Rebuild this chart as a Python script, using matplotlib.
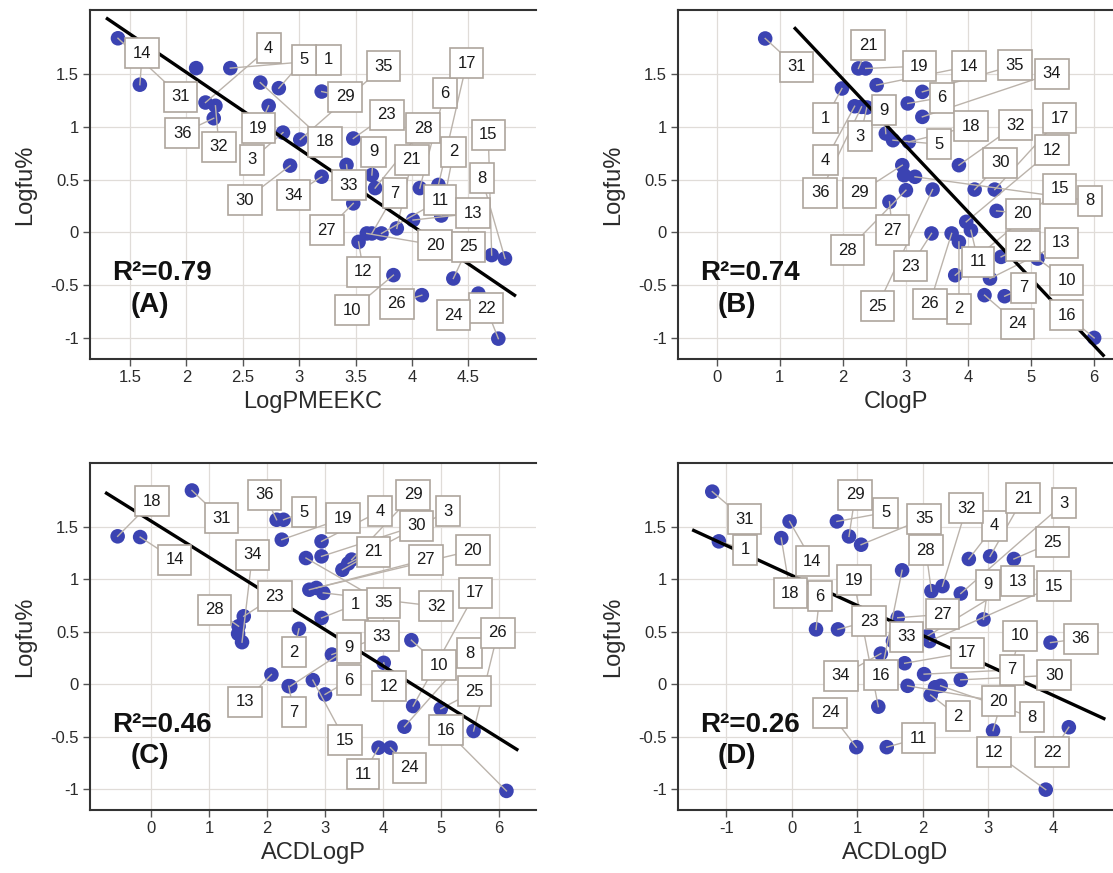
import matplotlib
matplotlib.use("Agg")
import matplotlib.pyplot as plt

plt.rcParams["font.family"] = ["Liberation Sans", "DejaVu Sans"]

compound_ids = list(range(1, 37))

# panel A: LogPMEEKC (point x, point y, label box x, label box y), compounds 1..36
a_x = [2.39, 4.26, 2.857, 2.17, 2.82, 4.07, 3.645, 4.825, 3.645, 3.836, 3.73, 3.527,
       4.01, 1.588, 4.707, 2.087, 4.235, 2.656, 2.73, 3.60, 3.866, 4.766, 3.48, 4.589,
       4.367, 4.088, 3.48, 3.674, 3.20, 2.92, 1.394, 2.258, 3.42, 3.20, 3.01, 2.243]
a_y = [1.557, 0.16, 0.946, 1.231, 1.367, 0.42, -0.01, -0.247, 0.544, -0.405, -0.01, -0.09,
       0.117, 1.40, -0.215, 1.557, 0.45, 1.42, 1.20, -0.01, 0.038, -1.007, 0.89, -0.58,
       -0.437, -0.595, 0.275, 0.42, 1.335, 0.633, 1.84, 1.20, 0.64, 0.528, 0.88, 1.082]
a_lx = [3.26, 4.37, 2.58, 2.73, 3.04, 4.29, 3.85, 4.62, 3.66, 3.467, 4.25, 3.571,
        4.54, 1.609, 4.677, None, 4.485, 3.23, 2.64, 4.205, 4.0, 4.66, 3.777, 4.367,
        4.50, 3.866, 3.246, 4.10, 3.41, 2.52, 1.948, 2.29, 3.44, 2.95, 3.748, 1.963]
a_ly = [1.636, 0.766, 0.687, 1.747, 1.636, 1.32, 0.37, 0.513, 0.766, -0.737, 0.307, -0.373,
        0.18, 1.70, 0.924, None, 1.604, 0.861, 0.987, -0.12, 0.687, -0.72, 1.114, -0.785,
        -0.136, -0.674, 0.022, 0.987, 1.288, 0.307, 1.288, 0.813, 0.449, 0.354, 1.573, 0.94]

# panel B: ClogP
b_x = [1.988, 3.849, 2.384, 2.19, 2.80, 3.035, 4.576, 3.15, 2.686, 5.10, 4.04, 3.965,
       4.343, 2.54, 3.79, 6.0, 4.419, 3.052, 2.366, 4.448, 2.25, 4.52, 3.413, 4.256,
       3.43, 3.733, 2.744, 3.006, 2.948, 4.099, 0.767, 3.849, 2.977, 3.267, 3.267, 2.30]
b_y = [1.364, -0.09, 1.184, 1.196, 0.874, 1.222, -0.605, 0.527, 0.937, -0.248, 0.02, 0.1,
       -0.437, 1.396, -0.406, -1.0, 0.406, 0.858, 1.554, 0.204, 1.554, -0.232, -0.01, -0.595,
       0.406, -0.01, 0.29, 0.40, 0.637, 0.406, 1.838, 0.637, 0.542, 1.095, 1.332, 1.19]
b_lx = [1.727, 3.85, 2.28, 1.727, 3.53, 3.576, 4.878, 5.94, 2.657, 5.564, 4.157, 5.33,
        5.477, 4.01, 5.45, 5.564, 5.45, 4.04, 3.22, 4.866, 2.407, 4.866, 3.08, 4.78,
        2.552, 3.384, 2.79, 2.076, 2.267, 4.506, 1.262, 4.75, None, 5.33, 4.74, 1.64]
b_ly = [1.08, -0.722, 0.912, 0.684, 0.836, 1.278, -0.526, 0.299, 1.158, -0.454, -0.279, 0.78,
        -0.1, 1.575, 0.416, -0.785, 1.08, 1.007, 1.575, 0.179, 1.775, -0.131, -0.32, -0.864,
        -0.70, -0.675, 0.021, -0.169, 0.375, 0.659, 1.569, 1.016, None, 1.506, 1.585, 0.375]

# panel C: ACDLogP
c_x = [2.94, 2.55, 3.40, 2.94, 2.284, 3.0, 2.373, 4.37, 2.40, 4.49, 3.924, 4.013,
       2.075, -0.19, 2.79, 6.13, 4.52, -0.578, 2.254, 2.85, 3.30, 1.50, 1.598, 4.13,
       4.997, 5.563, 2.73, 1.509, 3.46, 2.94, 0.704, 2.97, 3.119, 1.568, 2.671, 2.165]
c_y = [0.631, 0.527, 1.15, 1.361, 1.567, -0.098, -0.019, -0.406, -0.02, 0.419, -0.606, 0.203,
       0.092, 1.402, 0.038, -1.018, -0.209, 1.409, 1.377, 0.917, 1.09, 0.48, 0.647, -0.606,
       -0.235, -0.447, 0.90, 0.552, 1.187, 1.218, 1.846, 0.87, 0.282, 0.40, 1.202, 1.567]
c_lx = [3.524, 2.463, 5.12, 3.95, 2.64, 3.417, 2.463, 5.492, 3.417, 4.967, 3.655, 4.10,
        1.616, 0.405, 3.345, 5.086, 5.593, 0.018, 3.31, 5.55, 3.834, None, 2.135, 4.46,
        5.58, 5.98, 4.74, 1.09, 4.52, 4.58, 1.21, 4.92, 3.983, 1.747, 4.013, 1.956]
c_ly = [0.758, 0.305, 1.65, 1.65, 1.64, 0.038, -0.266, 0.292, 0.346, 0.178, -0.86, -0.019,
        -0.168, 1.187, -0.533, -0.438, 0.869, 1.742, 1.58, 1.275, 1.26, None, 0.838, -0.796,
        -0.067, 0.489, 1.187, 0.711, 1.805, 1.51, 1.58, 0.742, 0.457, 1.234, 0.774, 1.805]

# panel D: ACDLogD
d_x = [-1.115, 2.123, 2.583, 2.706, 0.689, 0.37, 2.022, 2.275, 2.93, 3.076, 1.451, 3.882,
       2.08, -0.034, 2.106, 1.686, 1.725, -0.162, 1.322, 1.77, 3.031, 4.235, 0.706, 0.986,
       3.395, 2.19, 1.619, 2.134, 0.874, 2.583, -1.216, 2.303, 1.546, 1.361, 1.059, 3.955]
d_y = [1.361, -0.104, 0.864, 1.193, 1.551, 0.522, 0.095, -0.016, 0.617, -0.443, -0.601, -1.006,
       0.46, 1.551, 0.41, 1.085, 0.199, 1.392, -0.215, -0.016, 1.218, -0.411, 0.522, -0.601,
       1.193, -0.03, 0.633, 0.886, 1.408, 0.041, 1.835, 0.934, 0.41, 0.291, 1.329, 0.396]
d_lx = [-0.711, 2.543, 4.162, 3.098, 1.434, 0.426, 3.367, 3.675, 3.003, 3.49, 1.938, 3.087,
        3.451, 0.314, 4.011, 1.361, 2.683, -0.022, 0.947, 3.16, 3.535, 3.983, 1.182, 0.583,
        3.983, None, 2.303, 2.05, 0.969, 4.011, -0.723, 2.667, 1.754, 0.751, 2.022, 4.42]
d_ly = [1.282, -0.307, 1.725, 1.509, 1.636, 0.839, 0.136, -0.316, 0.949, 0.459, -0.516, -0.649,
        0.981, 1.171, 0.934, 0.085, 0.301, 0.864, 0.99, -0.165, 1.772, -0.649, 0.601, -0.275,
        1.351, None, 0.665, 1.275, 1.804, 0.085, 1.573, 1.677, 0.453, 0.079, 1.576, 0.434]

x_titles = ["LogPMEEKC", "ClogP", "ACDLogP", "ACDLogD"]
panel_letters = ["(A)", "(B)", "(C)", "(D)"]
r2_values = [0.79, 0.74, 0.46, 0.26]
fit_slopes = [-0.726, -0.632, -0.345, -0.286]
fit_intercepts = [2.969, 2.719, 1.554, 1.036]
fit_x_ranges = [(1.30, 4.91), (1.244, 6.145), (-0.77, 6.31), (-1.50, 4.77)]
x_ticks = [[1.5, 2, 2.5, 3, 3.5, 4, 4.5], [0, 1, 2, 3, 4, 5, 6],
           [0, 1, 2, 3, 4, 5, 6], [-1, 0, 1, 2, 3, 4]]
y_ticks = [-1, -0.5, 0, 0.5, 1, 1.5]

panels = [
    (a_x, a_y, a_lx, a_ly),
    (b_x, b_y, b_lx, b_ly),
    (c_x, c_y, c_lx, c_ly),
    (d_x, d_y, d_lx, d_ly),
]

# layout
W, H = 1113, 873
rects = [
    [90 / W, 1 - 359 / H, 446 / W, 349 / H],
    [678 / W, 1 - 359 / H, 435 / W, 349 / H],
    [90 / W, 1 - 810 / H, 446 / W, 347 / H],
    [678 / W, 1 - 810 / H, 435 / W, 347 / H],
]
x_limits = [(1.146, 5.10), (-0.62, 6.3), (-1.055, 6.64), (-1.74, 4.91)]
y_limits = (-1.2, 2.108)

point_color = "#3b43b2"
leader_color = "#bbb3ab"
box_edge = "#aea59d"
grid_color = "#e0dcd8"
text_color = "#2b2b2b"


def fmt(v):
    return f"{v:g}"


fig = plt.figure(figsize=(W / 100, H / 100), dpi=100)

for i, (xs, ys, lxs, lys) in enumerate(panels):
    ax = fig.add_axes(rects[i])
    ax.set_xlim(*x_limits[i])
    ax.set_ylim(*y_limits)
    ax.set_xticks(x_ticks[i])
    ax.set_xticklabels([fmt(v) for v in x_ticks[i]])
    ax.set_yticks(y_ticks)
    ax.set_yticklabels([fmt(v) for v in y_ticks])
    ax.grid(True, color=grid_color, linewidth=0.9)
    ax.set_axisbelow(True)
    for side in ["left", "top", "bottom"]:
        ax.spines[side].set_linewidth(1.5)
        ax.spines[side].set_color("#333333")
    ax.spines["right"].set_visible(False)
    ax.tick_params(labelsize=12, colors="#555555", labelcolor=text_color,
                   length=5, width=1, pad=3)

    ax.scatter(xs, ys, s=110, color=point_color, edgecolors="none", zorder=2.5)

    for cid, px, py, lx, ly in zip(compound_ids, xs, ys, lxs, lys):
        if lx is None:
            continue
        ax.plot([px, lx], [py, ly], color=leader_color, linewidth=1.0, zorder=2.7)
        ax.text(lx, ly, str(cid), fontsize=12, color="#1a1a1a",
                ha="center", va="center", zorder=5,
                bbox=dict(boxstyle="square,pad=0.45", facecolor="white",
                          edgecolor=box_edge, linewidth=1.2))

    x0, x1 = fit_x_ranges[i]
    ax.plot([x0, x1],
            [fit_intercepts[i] + fit_slopes[i] * x0, fit_intercepts[i] + fit_slopes[i] * x1],
            color="black", linewidth=2.4, zorder=3)

    ax.text(0.05, 0.245, f"R\u00b2={r2_values[i]:.2f}", transform=ax.transAxes,
            fontsize=20, fontweight="bold", ha="left", va="center", color="#111111", zorder=6)
    ax.text(0.135, 0.155, panel_letters[i], transform=ax.transAxes,
            fontsize=20, fontweight="bold", ha="center", va="center", color="#111111", zorder=6)

    ax.set_xlabel(x_titles[i], fontsize=17, color=text_color, labelpad=4)
    ax.set_ylabel("Logfu%", fontsize=17, color=text_color, labelpad=10)

fig.savefig("out.png", dpi=100)
